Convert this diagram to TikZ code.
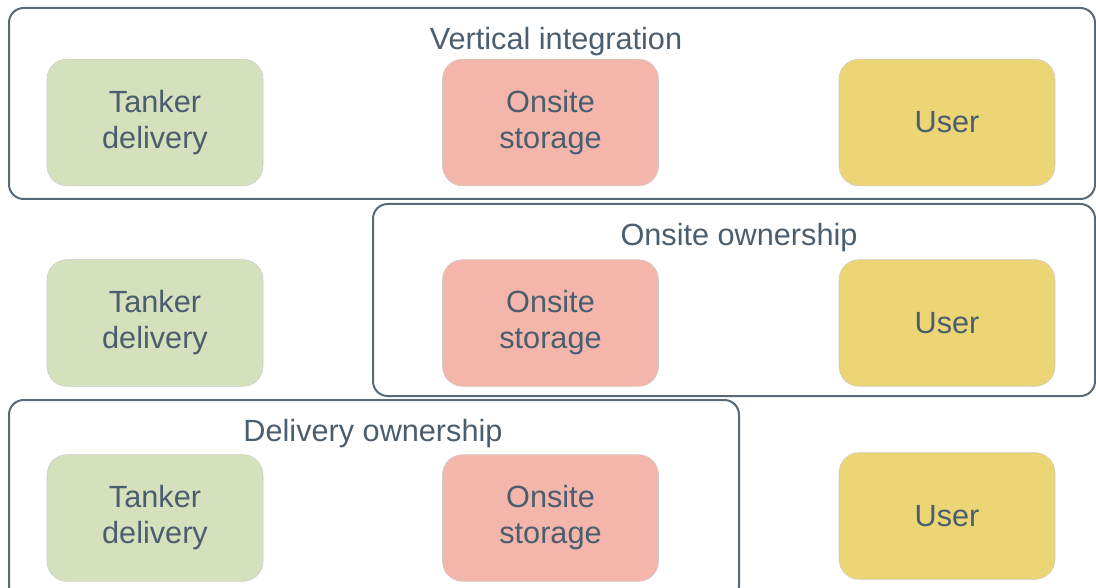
\documentclass[tikz,border=0pt]{standalone}
\usepackage{fontspec}
\setmainfont{Liberation Sans}
\definecolor{ink}{HTML}{4A5E6F}
\definecolor{frame}{HTML}{566A7A}
\definecolor{tankerfill}{HTML}{D5E0BD}
\definecolor{storagefill}{HTML}{F4B5AB}
\definecolor{userfill}{HTML}{EBD574}
\begin{document}
\begin{tikzpicture}[x=0.75pt,y=-0.75pt,
  stage/.style={rounded corners=15pt, draw=black!20, line width=0.4pt,
    minimum width=162pt, minimum height=95pt, align=center, text=ink,
    font=\fontsize{23}{27}\selectfont},
  tanker/.style={stage, fill=tankerfill},
  storage/.style={stage, fill=storagefill},
  user/.style={stage, fill=userfill},
  groupbox/.style={draw=frame, line width=1.5pt, rounded corners=11pt},
  grouptitle/.style={text=ink, font=\fontsize{23}{27}\selectfont, inner sep=0pt}]
  \useasboundingbox (0,0) rectangle (1096,588);
  \clip (0,0) rectangle (1096,588);

  % group frames
  \draw[groupbox] (9,8) rectangle (1095,199);
  \draw[groupbox] (373,204) rectangle (1095,396);
  \draw[groupbox] (9,400) rectangle (739,600);

  \node[grouptitle] (vt) at (556,42) {Vertical integration};
  \node[grouptitle] (ot) at (739,238) {Onsite ownership};
  \node[grouptitle] (dt) at (373,434) {Delivery ownership};

  % row 1
  \node[tanker]  (t1) at (155,122.5) {Tanker\\delivery};
  \node[storage] (s1) at (550.5,122.5) {Onsite\\storage};
  \node[user]    (u1) at (947,122.5) {User};
  % row 2
  \node[tanker]  (t2) at (155,323) {Tanker\\delivery};
  \node[storage] (s2) at (550.5,323) {Onsite\\storage};
  \node[user]    (u2) at (947,323) {User};
  % row 3
  \node[tanker]  (t3) at (155,518) {Tanker\\delivery};
  \node[storage] (s3) at (550.5,518) {Onsite\\storage};
  \node[user]    (u3) at (947,516) {User};
\end{tikzpicture}
\end{document}
